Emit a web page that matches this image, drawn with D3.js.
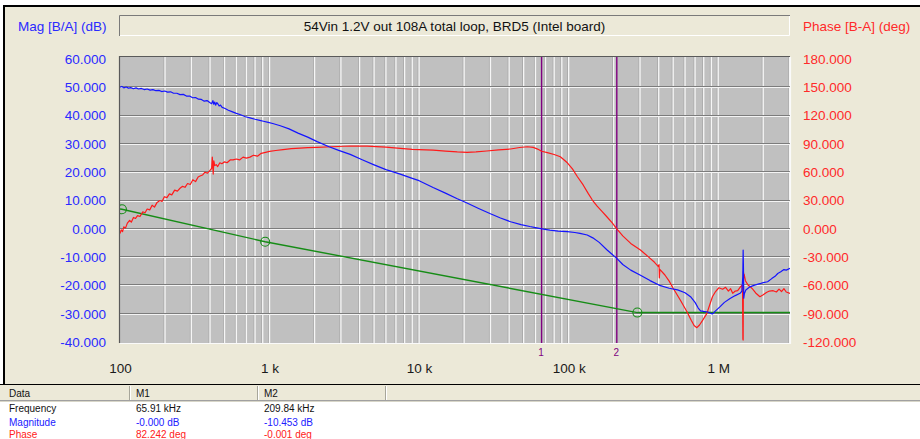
<!DOCTYPE html>
<html><head><meta charset="utf-8">
<script src="https://cdn.jsdelivr.net/npm/d3@7"></script>
<style>
html,body{margin:0;padding:0;background:#fff;}
svg{display:block;font-family:"Liberation Sans",Arial,sans-serif;}
</style></head><body>
<svg id="chart" width="920" height="439"></svg>
<script>
// Loop-gain sweep: magnitude (dB) and phase (deg) against frequency (Hz)
const magFreq = [100,103,106,110,114,118,123,128,133,139,145,152,159,166,174,182,190,199,208,218,228,240,252,265,278,292,306,320,335,350,366,382,398,410,418,424,430,436,444,452,460,470,482,500,530,560,600,640,690,740,800,860,910,980,1050,1180,1350,1550,1800,2080,2500,2900,3460,4200,5000,6000,7480,9000,10000,12400,15000,18000,20900,25000,30000,35000,40900,48000,55000,60000,65910,75000,85000,98000,110000,119000,133000,145000,160000,180000,195000,209840,230000,260000,302000,350000,411000,470000,535000,600000,653000,700000,735000,762000,800000,850000,914000,960000,1030000,1100000,1200000,1300000,1400000,1440000,1460000,1468000,1475000,1482000,1495000,1530000,1630000,1750000,1900000,2000000,2140000,2280000,2400000,2500000,2620000,2750000,2850000,3020000];
const magDb = [50.0,50.3,49.8,50.1,49.7,49.9,49.5,49.8,49.4,49.6,49.2,49.4,49.0,49.2,48.8,48.9,48.5,48.7,48.3,48.4,47.9,47.9,47.4,47.5,46.9,46.9,46.3,46.4,45.8,45.7,45.1,45.3,44.6,44.2,45.3,44.0,44.8,43.7,44.6,44.1,43.4,43.7,42.9,42.6,41.9,41.4,40.8,40.3,39.6,39.2,38.7,38.3,38.0,37.6,37.2,36.4,35.3,33.8,32.4,30.8,29.0,27.7,26.3,24.3,22.6,20.9,19.3,17.8,17.0,14.6,12.6,10.6,9.1,7.2,5.3,3.8,2.5,1.5,0.8,0.4,-0.0,-0.5,-0.8,-1.0,-1.3,-1.6,-2.2,-3.2,-4.8,-7.4,-9.0,-10.453,-12.6,-14.6,-16.4,-18.3,-20.1,-21.0,-21.6,-22.6,-24.0,-26.0,-28.0,-29.0,-29.2,-29.4,-30.1,-29.0,-27.5,-26.0,-24.6,-23.6,-22.8,-22.0,-17.0,-7.5,-14.0,-24.5,-23.0,-21.6,-20.5,-19.9,-19.4,-19.0,-18.7,-17.6,-16.8,-15.8,-15.2,-14.4,-14.6,-14.0];

const phaseFreq = [100,102,104,106,109,112,116,119,123,127,131,136,142,147,152,158,164,170,177,185,191,198,206,214,222,232,242,252,262,272,283,295,307,320,333,343,356,370,385,400,410,414,417,420,424,430,440,450,465,480,500,520,545,570,600,630,665,700,740,780,830,880,940,1000,1100,1230,1400,1600,1800,2080,2600,3460,4500,6000,7480,9000,10000,12400,15000,18000,20900,24000,28300,34000,40900,47000,53000,58000,62000,65910,72000,80000,88000,98000,106000,114500,125000,135000,144000,155000,167000,180000,195000,209840,230000,260000,302000,340000,375000,398000,402000,404000,407000,440000,470000,500000,560000,618000,660000,690000,720000,750000,790000,840000,880000,915000,960000,1010000,1070000,1120000,1170000,1210000,1250000,1300000,1350000,1400000,1440000,1455000,1462000,1468000,1474000,1480000,1490000,1520000,1580000,1640000,1700000,1780000,1900000,2000000,2100000,2200000,2330000,2450000,2550000,2650000,2750000,2850000,3020000];
const phaseDeg = [-5,-1,-3,2,1,6,9,7,12,11,14,13,18,17,21,20,25,23,28,30,29,34,33,37,36,41,40,43,45,44,48,47,52,50,55,56,57,60,59,62,64,76,68,58,72,67,68,66,70,69,71,70,73,73,74,73,76,75,76,78,77,80,81,82,83,84,85,85.5,86,86.4,87,87.8,87.6,86.5,85.3,84.3,84.0,83.5,82.4,81.5,81.1,81.6,82.5,83.6,84.6,86.2,87.0,86.3,84.5,82.242,80.8,78.8,76.4,70.0,63.5,55.2,46.5,37.5,30.5,24.0,18.5,12.8,6.5,-0.001,-7.5,-15.5,-22.5,-29.5,-35.5,-40.0,-38.0,-52.0,-43.0,-49.0,-55.5,-63.0,-76.0,-87.9,-97.0,-102.5,-104.8,-102.0,-96.5,-89.6,-80.0,-72.0,-66.5,-62.5,-64.1,-62.0,-66.0,-63.5,-68.4,-66.0,-65.6,-62.0,-60.0,-66.0,-117.0,-118.0,-45.0,-52.0,-48.0,-55.0,-59.5,-61.4,-64.0,-68.0,-72.0,-70.0,-67.5,-66.0,-65.6,-67.0,-64.0,-66.5,-63.5,-67.0,-68.4];

// Straight-line target magnitude with its corner points
const limitFreq = [103, 935, 288000, 3020000];
const limitDb = [6.9, -4.56, -29.6, -29.6];
const limitCorners = [0, 1, 2];

// Cursor markers
const markerFreq = [65910, 209840];
const markerNames = ["1", "2"];

const magTicks = [60, 50, 40, 30, 20, 10, 0, -10, -20, -30, -40];
const phaseTicks = [180, 150, 120, 90, 60, 30, 0, -30, -60, -90, -120];
const freqTicks = [100, 1e3, 1e4, 1e5, 1e6];
const freqTickLabels = ["100", "1 k", "10 k", "100 k", "1 M"];

const chartTitle = "54Vin 1.2V out 108A total loop, BRD5 (Intel board)";
const magTitle = "Mag [B/A] (dB)";
const phaseTitle = "Phase [B-A] (deg)";

const tableHeader = ["Data", "M1", "M2"];
const tableRows = ["Frequency", "Magnitude", "Phase"];
const m1Values = ["65.91 kHz", "-0.000 dB", "82.242 deg"];
const m2Values = ["209.84 kHz", "-10.453 dB", "-0.001 deg"];

const W = 920, H = 439;
const P = {left: 119, right: 790, top: 56, bottom: 343};
const BLUE = "#1414ff", RED = "#ff1a1a", GREEN = "#168c16", PURPLE = "#800080";
const BEIGE = "#ECE9D8";

const x = d3.scaleLog().domain([100, 3.02e6]).range([120, 790]);
const yMag = d3.scaleLinear().domain([-40, 60]).range([342, 59]);
const yPh = d3.scaleLinear().domain([-120, 180]).range([342, 59]);

const svg = d3.select("#chart");

// window background and frame
svg.append("rect").attr("width", W).attr("height", H).attr("fill", "#fff");
svg.append("rect").attr("x", 4).attr("y", 6).attr("width", W - 4).attr("height", 378).attr("fill", BEIGE);
svg.append("line").attr("x1", 3).attr("x2", W).attr("y1", 6).attr("y2", 6).attr("stroke", "#000").attr("stroke-width", 2);
svg.append("line").attr("x1", 4).attr("x2", 4).attr("y1", 5).attr("y2", 384).attr("stroke", "#000").attr("stroke-width", 2);
svg.append("line").attr("x1", 0).attr("x2", W).attr("y1", 384.5).attr("y2", 384.5).attr("stroke", "#000").attr("stroke-width", 1.2);

// title box (sunken)
const tb = {x: 119, y: 15, w: 671, h: 21};
svg.append("rect").attr("x", tb.x).attr("y", tb.y).attr("width", tb.w).attr("height", tb.h).attr("fill", BEIGE);
svg.append("path").attr("d", `M${tb.x + 0.5},${tb.y + tb.h}V${tb.y + 0.5}H${tb.x + tb.w}`).attr("fill", "none").attr("stroke", "#7a7a7a");
svg.append("path").attr("d", `M${tb.x + 1},${tb.y + tb.h - 0.5}H${tb.x + tb.w - 0.5}V${tb.y + 1}`).attr("fill", "none").attr("stroke", "#ffffff");
svg.append("text").attr("x", tb.x + tb.w / 2).attr("y", 31).attr("text-anchor", "middle")
  .attr("font-size", 13.5).attr("fill", "#111").text(chartTitle);
svg.append("text").attr("x", 18).attr("y", 31).attr("font-size", 13.5).attr("fill", "#2a2aff").text(magTitle);
svg.append("text").attr("x", 803).attr("y", 31).attr("font-size", 13.5).attr("fill", "#ff2a2a").text(phaseTitle);

// plot area
svg.append("rect").attr("x", P.left).attr("y", P.top).attr("width", P.right - P.left).attr("height", P.bottom - P.top).attr("fill", "#c0c0c0");

const grid = svg.append("g");
// vertical log grid lines (1..9 per decade)
const vLines = [];
for (let d = 100; d <= 1e6; d *= 10) {
  for (let k = 1; k <= 9; k++) {
    const f = k * d;
    if (f > 100 && f <= 3.02e6) vLines.push(f);
  }
}
grid.selectAll(".vg").data(vLines).join("line")
  .attr("x1", d => x(d) - 1).attr("x2", d => x(d) - 1).attr("y1", P.top + 1).attr("y2", P.bottom)
  .attr("stroke", "#a9a9a9").attr("stroke-width", 1);
grid.selectAll(".vw").data(vLines).join("line")
  .attr("x1", d => x(d)).attr("x2", d => x(d)).attr("y1", P.top + 1).attr("y2", P.bottom)
  .attr("stroke", "#f6f6f6").attr("stroke-width", 1.3);
// horizontal grid lines
const hLines = magTicks.filter(v => v < 60 && v > -40);
grid.selectAll(".hg").data(hLines).join("line")
  .attr("x1", P.left).attr("x2", P.right).attr("y1", d => Math.round(yMag(d)) - 0.5).attr("y2", d => Math.round(yMag(d)) - 0.5)
  .attr("stroke", "#7c7c7c").attr("stroke-width", 1);
grid.selectAll(".hw").data(hLines).join("line")
  .attr("x1", P.left).attr("x2", P.right).attr("y1", d => Math.round(yMag(d)) + 0.5).attr("y2", d => Math.round(yMag(d)) + 0.5)
  .attr("stroke", "#f4f4f4").attr("stroke-width", 1);

// plot border (sunken)
svg.append("path").attr("d", `M${P.left + 0.5},${P.bottom}V${P.top + 0.5}H${P.right}`).attr("fill", "none").attr("stroke", "#5a5a5a").attr("stroke-width", 1.2);
svg.append("path").attr("d", `M${P.left + 1},${P.bottom + 0.5}H${P.right + 0.5}V${P.top + 1}`).attr("fill", "none").attr("stroke", "#fafafa").attr("stroke-width", 1.2);

svg.append("clipPath").attr("id", "plotClip").append("rect")
  .attr("x", P.left + 1).attr("y", P.top + 1).attr("width", P.right - P.left - 1).attr("height", P.bottom - P.top - 1);
const plotG = svg.append("g").attr("clip-path", "url(#plotClip)");

// cursor lines
plotG.selectAll(".mk").data(markerFreq).join("line")
  .attr("x1", d => x(d)).attr("x2", d => x(d)).attr("y1", P.top).attr("y2", P.bottom)
  .attr("stroke", PURPLE).attr("stroke-width", 1.4);

// target line with corner circles
const limitPts = limitFreq.map((f, i) => [f, limitDb[i]]);
plotG.append("path").datum([[100, limitDb[0] + 0.12], ...limitPts])
  .attr("d", d3.line().x(d => x(d[0])).y(d => yMag(d[1])))
  .attr("fill", "none").attr("stroke", GREEN).attr("stroke-width", 1.4);
plotG.selectAll(".corner").data(limitCorners.map(i => limitPts[i])).join("circle")
  .attr("cx", d => x(d[0])).attr("cy", d => yMag(d[1])).attr("r", 4.5)
  .attr("fill", "none").attr("stroke", GREEN).attr("stroke-width", 1.1);

// phase curve
const phasePts = phaseFreq.map((f, i) => [f, phaseDeg[i]]);
plotG.append("path").datum(phasePts)
  .attr("d", d3.line().x(d => x(d[0])).y(d => yPh(d[1])))
  .attr("fill", "none").attr("stroke", RED).attr("stroke-width", 1.2).attr("stroke-linejoin", "round");

// magnitude curve
const magPts = magFreq.map((f, i) => [f, magDb[i]]);
plotG.append("path").datum(magPts)
  .attr("d", d3.line().x(d => x(d[0])).y(d => yMag(d[1])))
  .attr("fill", "none").attr("stroke", BLUE).attr("stroke-width", 1.2).attr("stroke-linejoin", "round");

// axes
const fmt = d => d.toFixed(3);
const axL = svg.append("g").attr("transform", `translate(${P.left},0)`)
  .call(d3.axisLeft(yMag).tickValues(magTicks).tickFormat(fmt).tickSize(0).tickPadding(13));
const axR = svg.append("g").attr("transform", `translate(${P.right},0)`)
  .call(d3.axisRight(yPh).tickValues(phaseTicks).tickFormat(fmt).tickSize(0).tickPadding(13));
const axB = svg.append("g").attr("transform", `translate(0,${P.bottom})`)
  .call(d3.axisBottom(x).tickValues(freqTicks).tickFormat((d, i) => freqTickLabels[i]).tickSize(0).tickPadding(20));
[axL, axR, axB].forEach(a => {
  a.select(".domain").remove();
  a.selectAll("text").attr("font-size", 13.5).attr("font-family", '"Liberation Sans", Arial, sans-serif');
});
axL.selectAll("text").attr("fill", "#2a2aff");
axR.selectAll("text").attr("fill", "#ff2a2a");
axB.selectAll("text").attr("fill", "#1a1a1a");

// cursor names under the plot
svg.selectAll(".mkl").data(markerFreq).join("text")
  .attr("x", d => x(d) - 0.5).attr("y", 356).attr("text-anchor", "middle")
  .attr("font-size", 10).attr("fill", PURPLE).text((d, i) => markerNames[i]);

// readout table
const tY = 385;
svg.append("rect").attr("x", 0).attr("y", tY).attr("width", W).attr("height", 15).attr("fill", BEIGE);
svg.append("line").attr("x1", 0).attr("x2", W).attr("y1", 400.5).attr("y2", 400.5).attr("stroke", "#a0a0a0");
svg.append("line").attr("x1", 0).attr("x2", W).attr("y1", 401.5).attr("y2", 401.5).attr("stroke", "#d8d6c8");
const colX = [0, 130, 258, 386];
const colText = [9, 136, 264];
svg.selectAll(".sep").data(colX.slice(1)).join("line")
  .attr("x1", d => d - 0.5).attr("x2", d => d - 0.5).attr("y1", tY + 1).attr("y2", 400)
  .attr("stroke", "#a7a69a");
svg.selectAll(".sepw").data(colX.slice(1)).join("line")
  .attr("x1", d => d + 0.5).attr("x2", d => d + 0.5).attr("y1", tY + 1).attr("y2", 400)
  .attr("stroke", "#ffffff");
svg.selectAll(".hdr").data(tableHeader).join("text")
  .attr("x", (d, i) => colText[i]).attr("y", 397).attr("font-size", 10).attr("fill", "#111").text(d => d);
const rowColors = ["#111", "#2020ff", "#ff2020"];
const rowY = [411.5, 425.5, 438];
tableRows.forEach((r, i) => {
  const vals = [r, m1Values[i], m2Values[i]];
  svg.selectAll(".row" + i).data(vals).join("text")
    .attr("x", (d, j) => colText[j]).attr("y", rowY[i]).attr("font-size", 10)
    .attr("fill", rowColors[i]).text(d => d);
});
</script>
</body></html>
